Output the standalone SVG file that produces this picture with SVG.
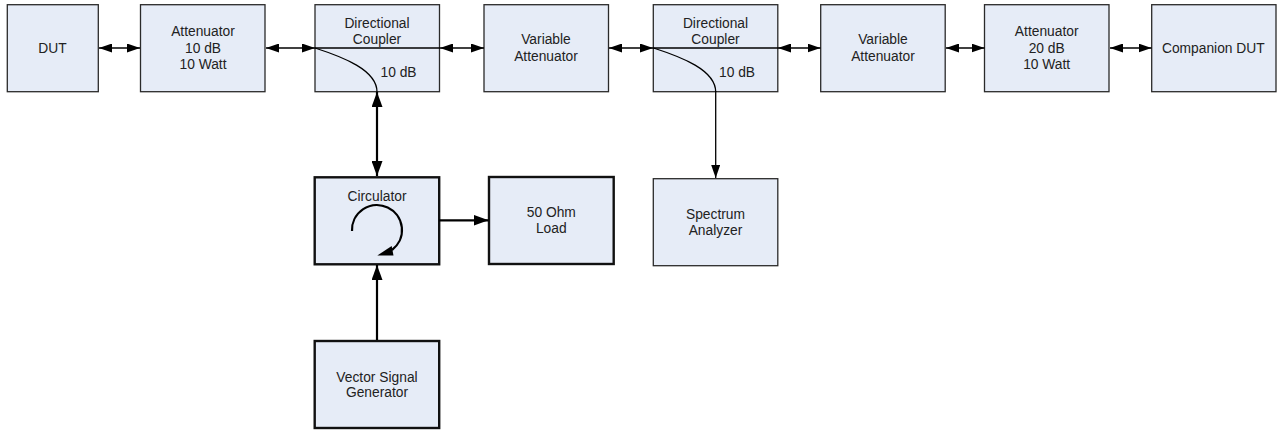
<svg xmlns="http://www.w3.org/2000/svg" width="1282" height="430" viewBox="0 0 1282 430">
<style>
.b{fill:#e6ecf7;stroke:#2a2a2a;stroke-width:1.3}
.t2{fill:#e6ecf7;stroke:#111;stroke-width:2.4}
text{font-family:"Liberation Sans",Arial,sans-serif;font-size:13.8px;fill:#222;text-anchor:middle}
.c{fill:none;stroke:#000;stroke-width:1.3}
.k{fill:none;stroke:#000;stroke-width:2.2}
.a{fill:#000;stroke:none}
</style>
<defs>
<marker id="m" markerUnits="userSpaceOnUse" markerWidth="13" markerHeight="9" refX="13" refY="4.500" orient="auto-start-reverse"><path d="M0 0L13 4.500L0 9Z" class="a"/></marker>
<marker id="n" markerUnits="userSpaceOnUse" markerWidth="15" markerHeight="11" refX="15" refY="5.500" orient="auto-start-reverse"><path d="M0 0L15 5.500L0 11Z" class="a"/></marker>
</defs>
<g id="dut"><rect class="b" x="7.3" y="4.700" width="91" height="87"/><text x="52.500" y="52.700">DUT</text></g>
<g id="att1"><rect class="b" x="140.500" y="4.700" width="124.500" height="87"/><text x="203" y="36">Attenuator</text><text x="203" y="52.500">10 dB</text><text x="203" y="69">10 Watt</text></g>
<g id="coupler1"><rect class="b" x="315" y="4.700" width="124.500" height="87"/><text x="377" y="28.300">Directional</text><text x="377" y="44.300">Coupler</text><text x="398.500" y="77.300">10 dB</text></g>
<g id="var1"><rect class="b" x="484" y="4.700" width="124.500" height="87"/><text x="546" y="44">Variable</text><text x="546" y="61">Attenuator</text></g>
<g id="coupler2"><rect class="b" x="653.300" y="4.700" width="124.500" height="87"/><text x="715.500" y="28.300">Directional</text><text x="715.500" y="44.300">Coupler</text><text x="737" y="77.300">10 dB</text></g>
<g id="var2"><rect class="b" x="820.700" y="4.700" width="124.500" height="87"/><text x="883" y="44">Variable</text><text x="883" y="61">Attenuator</text></g>
<g id="att2"><rect class="b" x="984.500" y="4.700" width="124.500" height="87"/><text x="1046.700" y="36">Attenuator</text><text x="1046.700" y="52.500">20 dB</text><text x="1046.700" y="69">10 Watt</text></g>
<g id="companion"><rect class="b" x="1151.700" y="4.700" width="124.300" height="87"/><text x="1213.300" y="52.500">Companion DUT</text></g>
<g id="circulator"><rect class="t2" x="314.700" y="177.300" width="124.500" height="87"/><text x="377" y="200.700">Circulator</text><path class="k" d="M352 231A25 25 0 1 1 392 250"/><path class="a" d="M377.300 255.500L391.700 246L393.500 255.500Z"/></g>
<g id="load"><rect class="t2" x="489" y="177" width="124.700" height="87"/><text x="551.300" y="216.700">50 Ohm</text><text x="551.300" y="233">Load</text></g>
<g id="analyzer"><rect class="b" x="653.300" y="178.700" width="124.500" height="87"/><text x="715.500" y="219">Spectrum</text><text x="715.500" y="235">Analyzer</text></g>
<g id="vsg"><rect class="t2" x="314.700" y="341" width="124.500" height="87"/><text x="377" y="381.700">Vector Signal</text><text x="377" y="397">Generator</text></g>
<g id="connectors">
<path class="c" marker-start="url(#m)" marker-end="url(#m)" d="M99 48H140"/>
<path class="c" marker-start="url(#m)" marker-end="url(#m)" d="M266 48H315"/>
<path class="c" d="M315 48H440"/>
<path class="c" marker-start="url(#m)" marker-end="url(#m)" d="M440 48H484"/>
<path class="c" marker-start="url(#m)" marker-end="url(#m)" d="M609 48H653"/>
<path class="c" d="M653 48H778"/>
<path class="c" marker-start="url(#m)" marker-end="url(#m)" d="M778 48H820.500"/>
<path class="c" marker-start="url(#m)" marker-end="url(#m)" d="M946 48H984.500"/>
<path class="c" marker-start="url(#m)" marker-end="url(#m)" d="M1110 48H1151.500"/>
<path class="c" d="M315 48C343 57 377 70 377 92"/>
<path class="c" d="M653.500 48C681.500 57 715.700 70 715.700 92"/>
<path class="c" marker-end="url(#m)" d="M715.700 91V178"/>
<path class="k" marker-start="url(#n)" marker-end="url(#n)" d="M377 92V176"/>
<path class="k" marker-end="url(#n)" d="M439 220.300H488.500"/>
<path class="k" marker-end="url(#n)" d="M377 340V265"/>
</g>
</svg>
